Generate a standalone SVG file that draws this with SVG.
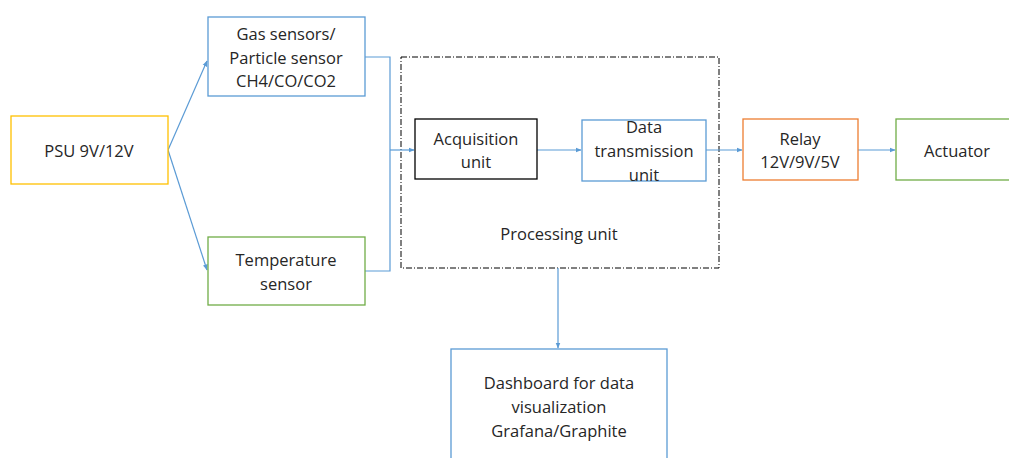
<svg xmlns="http://www.w3.org/2000/svg" width="1009" height="458" viewBox="0 0 1009 458">
  <defs>
    <marker id="arrow" viewBox="0 0 10 10" refX="9" refY="5" markerWidth="6" markerHeight="6" orient="auto" markerUnits="userSpaceOnUse">
      <path d="M0,1 L10,5 L0,9 z" fill="#5B9BD5"/>
    </marker>
  </defs>
  <style>
    .box { fill: #fff; stroke-width: 1.3; }
    .blue { stroke: #5B9BD5; }
    .yellow { stroke: #FFC000; }
    .green { stroke: #70AD47; }
    .orange { stroke: #ED7D31; }
    .black { stroke: #000; }
    .group { fill: none; stroke: #000; stroke-width: 1; stroke-dasharray: 6 2 1 2; }
    .wire { fill: none; stroke: #5B9BD5; stroke-width: 1.2; }
    text { font-family: "Open Sans", "Liberation Sans", sans-serif; font-size: 16.5px; fill: #262626; text-anchor: middle; dominant-baseline: central; }
  </style>
  <rect width="1009" height="458" fill="#fff"/>

  <g id="processing">
    <rect class="group" x="401" y="57" width="318" height="211"/>
    <text x="559" y="233">Processing unit</text>
  </g>

  <g id="connectors">
    <path class="wire" d="M168,150 L207,61" marker-end="url(#arrow)"/>
    <path class="wire" d="M168,150 L207,270" marker-end="url(#arrow)"/>
    <path class="wire" d="M365,57 L390,57 L390,271 L365,271"/>
    <path class="wire" d="M390,150 L414,150" marker-end="url(#arrow)"/>
    <path class="wire" d="M537,150 L581,150" marker-end="url(#arrow)"/>
    <path class="wire" d="M706,150 L742,150" marker-end="url(#arrow)"/>
    <path class="wire" d="M858,150 L895,150" marker-end="url(#arrow)"/>
    <path class="wire" d="M558,268 L558,348" marker-end="url(#arrow)"/>
  </g>

  <g id="psu">
    <rect class="box yellow" x="11" y="116" width="157" height="68"/>
    <text x="89" y="150">PSU 9V/12V</text>
  </g>

  <g id="gas-sensors">
    <rect class="box blue" x="208" y="17" width="157" height="79"/>
    <text x="286" y="33">Gas sensors/</text>
    <text x="286" y="57">Particle sensor</text>
    <text x="286" y="80">CH4/CO/CO2</text>
  </g>

  <g id="temperature-sensor">
    <rect class="box green" x="208" y="237" width="157" height="68"/>
    <text x="286" y="259">Temperature</text>
    <text x="286" y="283">sensor</text>
  </g>

  <g id="acquisition">
    <rect class="box black" x="415" y="119" width="122" height="60"/>
    <text x="476" y="138">Acquisition</text>
    <text x="476" y="161">unit</text>
  </g>

  <g id="data-transmission">
    <rect class="box blue" x="582" y="120" width="124" height="61"/>
    <text x="644" y="126">Data</text>
    <text x="644" y="150">transmission</text>
    <text x="644" y="174">unit</text>
  </g>

  <g id="relay">
    <rect class="box orange" x="743" y="119" width="115" height="61"/>
    <text x="800" y="138">Relay</text>
    <text x="800" y="161">12V/9V/5V</text>
  </g>

  <g id="actuator">
    <rect class="box green" x="896" y="119" width="120" height="61"/>
    <text x="957" y="150">Actuator</text>
  </g>

  <g id="dashboard">
    <rect class="box blue" x="451" y="349" width="216" height="120"/>
    <text x="559" y="382">Dashboard for data</text>
    <text x="559" y="406">visualization</text>
    <text x="559" y="430">Grafana/Graphite</text>
  </g>
</svg>
